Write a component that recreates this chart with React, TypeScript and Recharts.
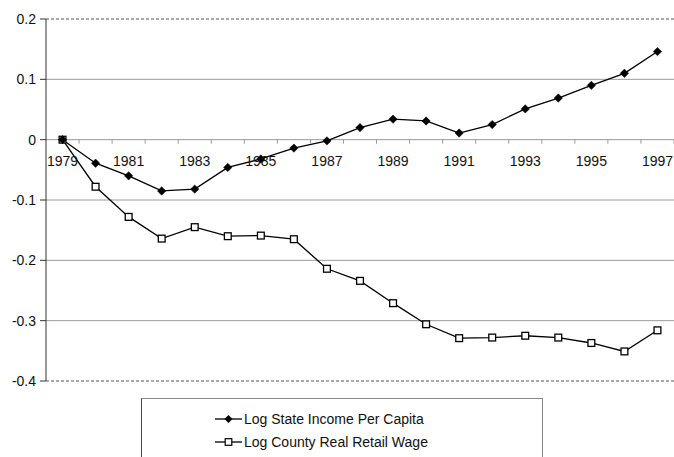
import React from 'react';
import { LineChart, Line, XAxis, YAxis, ReferenceLine } from 'recharts';

const years = ['1979','1980','1981','1982','1983','1984','1985','1986','1987','1988','1989','1990','1991','1992','1993','1994','1995','1996','1997'];
const stateIncome = [0, -0.039, -0.060, -0.085, -0.082, -0.046, -0.032, -0.014, -0.002, 0.020, 0.034, 0.031, 0.011, 0.025, 0.051, 0.069, 0.090, 0.110, 0.146];
const retailWage = [0, -0.078, -0.128, -0.164, -0.145, -0.160, -0.159, -0.165, -0.214, -0.234, -0.271, -0.306, -0.329, -0.328, -0.325, -0.328, -0.337, -0.351, -0.316];
const yTicks = [-0.4, -0.3, -0.2, -0.1, 0, 0.1, 0.2];
const gridValues = [-0.3, -0.2, -0.1, 0, 0.1];
const labeledYears = ['1979','1981','1983','1985','1987','1989','1991','1993','1995','1997'];
const seriesNames = ['Log State Income Per Capita', 'Log County Real Retail Wage'];

const data = years.map((y, i) => ({ year: y, income: stateIncome[i], wage: retailWage[i] }));

const W = 674;
const H = 457;
const X_AXIS_H = 1;
const M = { top: 19, right: 0, bottom: 76 - X_AXIS_H, left: 0 };
const Y_AXIS_W = 46;
const Y_MIN = -0.4;
const Y_MAX = 0.2;
const plotTop = M.top;
const plotH = H - M.top - M.bottom - X_AXIS_H;
const plotW = W - M.left - M.right - Y_AXIS_W;
const zeroY = plotTop + (plotH * (Y_MAX - 0)) / (Y_MAX - Y_MIN);
const band = plotW / years.length;
const FONT = "'Liberation Sans', Arial, sans-serif";

const XTick = (props: any) => {
  const { x, payload } = props;
  const show = labeledYears.includes(String(payload.value));
  return (
    <g>
      <line x1={x + band / 2} x2={x + band / 2} y1={zeroY} y2={zeroY + 4} stroke="#999" strokeWidth={1} />
      {show && (
        <text x={x} y={zeroY + 21} textAnchor="middle" dominantBaseline="central" fontSize={14} fill="#111" fontFamily={FONT}>
          {payload.value}
        </text>
      )}
    </g>
  );
};

const Diamond = (props: any) => {
  const { cx, cy, index } = props;
  if (cx == null || cy == null) return <g key={`d${index}`} />;
  const r = 4.2;
  return <path key={`d${index}`} d={`M${cx},${cy - r}L${cx + r},${cy}L${cx},${cy + r}L${cx - r},${cy}Z`} fill="#000" stroke="#000" strokeWidth={0.5} />;
};

const Square = (props: any) => {
  const { cx, cy, index } = props;
  if (cx == null || cy == null) return <g key={`s${index}`} />;
  const s = 3.4;
  return <rect key={`s${index}`} x={cx - s} y={cy - s} width={2 * s} height={2 * s} fill="#fff" stroke="#000" strokeWidth={1.3} />;
};

export default function App() {
  return (
    <div style={{ position: 'absolute', top: 0, left: 0, width: W, height: H, background: '#fff', fontFamily: FONT, overflow: 'hidden' }}>
      <LineChart width={W} height={H} data={data} margin={M}>
        {gridValues.map((v) => (
          <ReferenceLine key={v} y={v} stroke="#9a9a9a" strokeWidth={1} />
        ))}
        <ReferenceLine y={Y_MAX} stroke="#555" strokeDasharray="3 2" strokeWidth={1} />
        <ReferenceLine y={Y_MIN} stroke="#555" strokeDasharray="3 2" strokeWidth={1} />
        <XAxis
          dataKey="year"
          type="category"
          scale="band"
          height={X_AXIS_H}
          axisLine={false}
          tickLine={false}
          interval={0}
          tick={(p: any) => <XTick {...p} />}
        />
        <YAxis
          width={Y_AXIS_W}
          domain={[Y_MIN, Y_MAX]}
          ticks={yTicks}
          interval={0}
          axisLine={{ stroke: '#333', strokeWidth: 1 }}
          tickLine={{ stroke: '#333' }}
          tickSize={6}
          tickMargin={4}
          tick={{ fontSize: 14, fill: '#111', fontFamily: FONT }}
          tickFormatter={(v: number) => (Math.abs(v) < 1e-9 ? '0' : v.toFixed(1))}
        />
        <Line dataKey="wage" name={seriesNames[1]} stroke="#000" strokeWidth={1.3} dot={Square} isAnimationActive={false} />
        <Line dataKey="income" name={seriesNames[0]} stroke="#000" strokeWidth={1.3} dot={Diamond} isAnimationActive={false} />
      </LineChart>
      <div style={{ position: 'absolute', left: 141, top: 398, width: 402, height: 70, borderLeft: '1px solid #444', borderTop: '1px solid #888', borderRight: '1px solid #888', boxSizing: 'border-box' }}>
        {seriesNames.map((name, i) => (
          <div key={name} style={{ position: 'absolute', left: 72, top: 10 + i * 23, height: 20, display: 'flex', alignItems: 'center', fontSize: 14, color: '#111', whiteSpace: 'nowrap' }}>
            <svg width={29} height={12} style={{ marginRight: 1 }}>
              <line x1={1} x2={28} y1={6} y2={6} stroke="#000" strokeWidth={1.3} />
              {i === 0 ? (
                <path d="M14.5,2L18.5,6L14.5,10L10.5,6Z" fill="#000" />
              ) : (
                <rect x={11.2} y={2.7} width={6.6} height={6.6} fill="#fff" stroke="#000" strokeWidth={1.2} />
              )}
            </svg>
            <span>{name}</span>
          </div>
        ))}
      </div>
    </div>
  );
}
